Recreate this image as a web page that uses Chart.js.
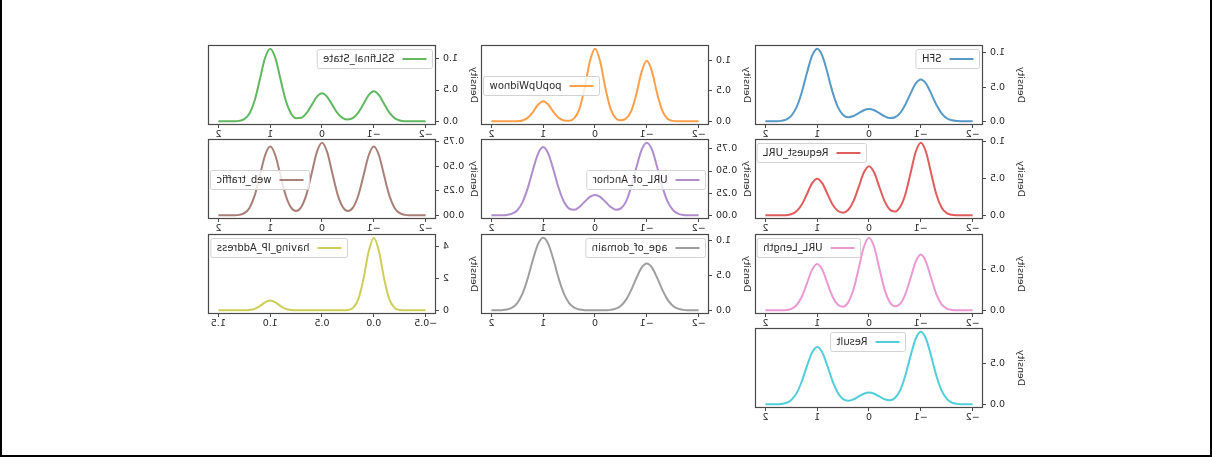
<!DOCTYPE html>
<html>
<head>
<meta charset="utf-8">
<script src="https://cdn.jsdelivr.net/npm/chart.js@4.4.1/dist/chart.umd.min.js"></script>
<style>
  html, body { margin: 0; padding: 0; background: #fff; }
  /* the reference picture is a mirrored figure, so the whole figure is flipped */
  #fig { position: relative; width: 1212px; height: 470px; overflow: hidden; transform: scaleX(-1); }
  #frame { position: absolute; left: 0; top: 0; width: 1212px; height: 457px; box-sizing: border-box;
           border: 2px solid #000; border-top: none; }
  .cell { position: absolute; }
</style>
</head>
<body>
<div id="fig"><div id="frame"></div></div>
<script>
// x grids the density curves are sampled on
var xGrid = [-2.0,-1.9,-1.8,-1.7,-1.6,-1.5,-1.4,-1.3,-1.2,-1.1,-1.0,-0.9,-0.8,-0.7,-0.6,-0.5,-0.4,-0.3,-0.2,-0.1,
             0,0.1,0.2,0.3,0.4,0.5,0.6,0.7,0.8,0.9,1.0,1.1,1.2,1.3,1.4,1.5,1.6,1.7,1.8,1.9,2.0];
var ipGrid = [-0.5,-0.45,-0.4,-0.35,-0.3,-0.25,-0.2,-0.15,-0.1,-0.05,0,0.05,0.1,0.15,0.2,0.25,0.3,0.35,0.4,0.45,
              0.5,0.55,0.6,0.65,0.7,0.75,0.8,0.85,0.9,0.95,1.0,1.05,1.1,1.15,1.2,1.25,1.3,1.35,1.4,1.45,1.5];

// density values
var SFH = [0,0,0.001,0.004,0.015,0.046,0.117,0.241,0.404,0.550,0.610,0.550,0.404,0.242,0.121,0.060,0.049,0.075,0.120,0.162,
           0.180,0.162,0.120,0.078,0.060,0.094,0.207,0.419,0.701,0.956,1.060,0.956,0.701,0.418,0.203,0.080,0.026,0.007,0.001,0,0];
var popUpWidnow = [0,0,0,0,0.001,0.008,0.043,0.171,0.453,0.814,0.990,0.814,0.453,0.171,0.045,0.017,0.053,0.205,0.545,0.979,
           1.190,0.979,0.545,0.205,0.053,0.012,0.016,0.057,0.151,0.271,0.330,0.271,0.151,0.057,0.014,0.003,0,0,0,0,0];
var SSLfinal_State = [0,0,0,0.001,0.003,0.015,0.052,0.138,0.276,0.418,0.480,0.418,0.276,0.139,0.055,0.029,0.052,0.130,0.259,0.392,
           0.450,0.392,0.259,0.131,0.057,0.050,0.130,0.334,0.667,1.010,1.160,1.010,0.667,0.334,0.126,0.036,0.008,0.001,0,0,0];
var Request_URL = [0,0,0,0.001,0.007,0.031,0.108,0.285,0.569,0.862,0.990,0.862,0.569,0.285,0.113,0.052,0.080,0.194,0.385,0.583,
           0.670,0.583,0.385,0.193,0.076,0.037,0.059,0.144,0.287,0.435,0.500,0.435,0.287,0.144,0.055,0.016,0.003,0.001,0,0,0];
var URL_of_Anchor = [0,0,0.001,0.005,0.020,0.062,0.157,0.324,0.542,0.740,0.820,0.740,0.542,0.324,0.158,0.079,0.064,0.096,0.153,0.208,
           0.230,0.208,0.153,0.096,0.063,0.076,0.153,0.305,0.510,0.694,0.770,0.694,0.509,0.304,0.147,0.058,0.019,0.005,0.001,0,0];
var web_traffic = [0,0,0,0.001,0.005,0.022,0.076,0.201,0.402,0.609,0.700,0.609,0.402,0.202,0.081,0.045,0.086,0.214,0.425,0.644,
           0.740,0.644,0.425,0.214,0.086,0.045,0.081,0.202,0.402,0.609,0.700,0.609,0.402,0.201,0.076,0.022,0.005,0.001,0,0,0];
var URL_Length = [0,0,0,0.001,0.005,0.022,0.075,0.198,0.397,0.601,0.690,0.601,0.397,0.199,0.081,0.050,0.103,0.260,0.517,0.784,
           0.900,0.784,0.517,0.259,0.102,0.046,0.069,0.166,0.330,0.501,0.575,0.501,0.330,0.165,0.063,0.018,0.004,0.001,0,0,0];
var age_of_domain = [0,0,0.002,0.007,0.024,0.067,0.154,0.293,0.464,0.611,0.670,0.611,0.464,0.293,0.154,0.067,0.024,0.007,0.002,0,
           0,0.001,0.003,0.011,0.038,0.104,0.238,0.454,0.720,0.948,1.040,0.948,0.720,0.454,0.238,0.104,0.038,0.011,0.003,0.001,0];
var having_IP_Address = [0,0,0,0,0.002,0.023,0.157,0.686,1.966,3.702,4.570,3.702,1.966,0.686,0.157,0.023,0.002,0,0,0,
           0,0,0,0,0,0.003,0.021,0.093,0.267,0.502,0.620,0.502,0.267,0.093,0.021,0.003,0,0,0,0,0];
var Result = [0,0,0.001,0.006,0.022,0.068,0.172,0.355,0.595,0.812,0.900,0.812,0.595,0.355,0.173,0.079,0.050,0.063,0.098,0.132,
           0.146,0.132,0.098,0.062,0.045,0.065,0.140,0.281,0.470,0.640,0.710,0.640,0.470,0.280,0.136,0.054,0.017,0.004,0.001,0,0];

// tick values and labels
var xTicks = [-2, -1, 0, 1, 2];
var xTickLabels = ['\u22122', '\u22121', '0', '1', '2'];
var ipTicks = [-0.5, 0, 0.5, 1, 1.5];
var ipTickLabels = ['\u22120.5', '0.0', '0.5', '1.0', '1.5'];
var yTicks1 = [0, 0.5, 1.0];
var yTickLabels1 = ['0.0', '0.5', '1.0'];
var yTicks2 = [0, 0.25, 0.5, 0.75];
var yTickLabels2 = ['0.00', '0.25', '0.50', '0.75'];
var yTicks3 = [0, 0.5];
var yTickLabels3 = ['0.0', '0.5'];
var yTicksIP = [0, 2, 4];
var yTickLabelsIP = ['0', '2', '4'];

// layout of the grid (pixels)
var AX_W = 228, AX_H = 80;
var PAD_L = 50, PAD_T = 12, PAD_R = 4, PAD_B = 20;
var colLeft = [229, 503, 776];
var rowTop = [45, 139, 234, 328];
var FONT = { family: '"DejaVu Sans", sans-serif', size: 9.5 };
var LEGEND_FONT = '10px "DejaVu Sans", sans-serif';
var INK = '#2a2a2a';
var SPINE = '#4a4a4a';

var panels = [
  { label: 'SFH', x: xGrid, y: SFH, color: '#5799c7', row: 0, col: 0, loc: 'upper left',
    xt: xTicks, xl: xTickLabels, yt: yTicks1, yl: yTickLabels1 },
  { label: 'popUpWidnow', x: xGrid, y: popUpWidnow, color: '#ff9f4a', row: 0, col: 1, loc: 'center right',
    xt: xTicks, xl: xTickLabels, yt: yTicks1, yl: yTickLabels1 },
  { label: 'SSLfinal_State', x: xGrid, y: SSLfinal_State, color: '#61b861', row: 0, col: 2, loc: 'upper left',
    xt: xTicks, xl: xTickLabels, yt: yTicks1, yl: yTickLabels1 },
  { label: 'Request_URL', x: xGrid, y: Request_URL, color: '#e05d5e', row: 1, col: 0, loc: 'upper right',
    xt: xTicks, xl: xTickLabels, yt: yTicks1, yl: yTickLabels1 },
  { label: 'URL_of_Anchor', x: xGrid, y: URL_of_Anchor, color: '#af8dce', row: 1, col: 1, loc: 'center left',
    xt: xTicks, xl: xTickLabels, yt: yTicks2, yl: yTickLabels2 },
  { label: 'web_traffic', x: xGrid, y: web_traffic, color: '#a98078', row: 1, col: 2, loc: 'center right',
    xt: xTicks, xl: xTickLabels, yt: yTicks2, yl: yTickLabels2 },
  { label: 'URL_Length', x: xGrid, y: URL_Length, color: '#ea99d2', row: 2, col: 0, loc: 'upper right',
    xt: xTicks, xl: xTickLabels, yt: yTicks3, yl: yTickLabels3 },
  { label: 'age_of_domain', x: xGrid, y: age_of_domain, color: '#9f9f9f', row: 2, col: 1, loc: 'upper left',
    xt: xTicks, xl: xTickLabels, yt: yTicks1, yl: yTickLabels1 },
  { label: 'having_IP_Address', x: ipGrid, y: having_IP_Address, color: '#cdce59', row: 2, col: 2, loc: 'upper right',
    xt: ipTicks, xl: ipTickLabels, yt: yTicksIP, yl: yTickLabelsIP },
  { label: 'Result', x: xGrid, y: Result, color: '#51cedb', row: 3, col: 0, loc: 'upper center',
    xt: xTicks, xl: xTickLabels, yt: yTicks3, yl: yTickLabels3 }
];

// axes box plus a matplotlib style legend drawn inside the plot area
var boxLegend = {
  id: 'boxLegend',
  afterDraw: function (chart, args, opts) {
    var ctx = chart.ctx, a = chart.chartArea;
    ctx.save();
    ctx.strokeStyle = SPINE;
    ctx.lineWidth = 1.2;
    ctx.strokeRect(Math.round(a.left) + 0.5, Math.round(a.top) + 0.5,
                   Math.round(a.right - a.left) - 1, Math.round(a.bottom - a.top) - 1);

    ctx.font = LEGEND_FONT;
    var tw = ctx.measureText(opts.label).width;
    var w = 6 + 24 + 8 + tw + 6, h = 19, x, y;
    if (opts.loc.indexOf('left') >= 0) x = a.left + 3;
    else if (opts.loc.indexOf('right') >= 0) x = a.right - 3 - w;
    else x = (a.left + a.right - w) / 2;
    if (opts.loc.indexOf('upper') === 0) y = a.top + 4;
    else y = (a.top + a.bottom - h) / 2;
    x = Math.round(x) + 0.5; y = Math.round(y) + 0.5;

    ctx.beginPath();
    ctx.roundRect(x, y, w, h, 2);
    ctx.fillStyle = 'rgba(255,255,255,0.8)';
    ctx.fill();
    ctx.lineWidth = 1;
    ctx.strokeStyle = '#d2d2d2';
    ctx.stroke();

    ctx.beginPath();
    ctx.moveTo(x + 6, y + h / 2);
    ctx.lineTo(x + 30, y + h / 2);
    ctx.strokeStyle = opts.color;
    ctx.lineWidth = 2;
    ctx.stroke();

    ctx.fillStyle = INK;
    ctx.textBaseline = 'middle';
    ctx.textAlign = 'left';
    ctx.fillText(opts.label, x + 38, y + h / 2 + 0.5);
    ctx.restore();
  }
};

var fig = document.getElementById('fig');

panels.forEach(function (p) {
  var cw = PAD_L + AX_W + PAD_R, chh = PAD_T + AX_H + PAD_B;
  var cell = document.createElement('div');
  cell.className = 'cell';
  cell.style.left = (colLeft[p.col] - PAD_L) + 'px';
  cell.style.top = (rowTop[p.row] - PAD_T) + 'px';
  var cv = document.createElement('canvas');
  cv.width = cw; cv.height = chh;
  cv.style.width = cw + 'px'; cv.style.height = chh + 'px';
  cell.appendChild(cv);
  fig.appendChild(cell);

  var ymax = Math.max.apply(null, p.y);
  var xmin = p.x[0], xmax = p.x[p.x.length - 1], xr = xmax - xmin;

  var chart = new Chart(cv.getContext('2d'), {
    type: 'line',
    data: {
      datasets: [{
        label: p.label,
        data: p.x.map(function (v, i) { return { x: v, y: p.y[i] }; }),
        borderColor: p.color,
        borderWidth: 2,
        pointRadius: 0,
        fill: false,
        cubicInterpolationMode: 'monotone'
      }]
    },
    options: {
      responsive: false,
      animation: false,
      layout: { padding: { top: PAD_T, right: PAD_R, left: 0, bottom: 0 } },
      plugins: {
        legend: { display: false },
        tooltip: { enabled: false },
        boxLegend: { label: p.label, color: p.color, loc: p.loc }
      },
      scales: {
        x: {
          type: 'linear',
          min: xmin - 0.05 * xr,
          max: xmax + 0.05 * xr,
          afterBuildTicks: function (s) { s.ticks = p.xt.map(function (v) { return { value: v }; }); },
          afterFit: function (s) { s.height = PAD_B; },
          ticks: { callback: function (v, i) { return p.xl[i]; }, font: FONT, color: INK,
                   padding: 1, maxRotation: 0, minRotation: 0, autoSkip: false },
          grid: { drawOnChartArea: false, tickLength: 3, color: SPINE },
          border: { display: false }
        },
        y: {
          type: 'linear',
          min: -0.05 * ymax,
          max: 1.05 * ymax,
          afterBuildTicks: function (s) { s.ticks = p.yt.map(function (v) { return { value: v }; }); },
          afterFit: function (s) { s.width = PAD_L; },
          ticks: { callback: function (v, i) { return p.yl[i]; }, font: FONT, color: INK,
                   padding: 4, autoSkip: false },
          grid: { drawOnChartArea: false, tickLength: 3, color: SPINE },
          border: { display: false },
          title: { display: true, text: 'Density', font: FONT, color: INK, padding: { top: 7, bottom: 0 } }
        }
      }
    },
    plugins: [boxLegend]
  });

  // keep the plot area exactly on the measured axes box
  var a = chart.chartArea;
  cell.style.left = (colLeft[p.col] - a.left) + 'px';
  cell.style.top = (rowTop[p.row] - a.top) + 'px';
});
</script>
</body>
</html>
